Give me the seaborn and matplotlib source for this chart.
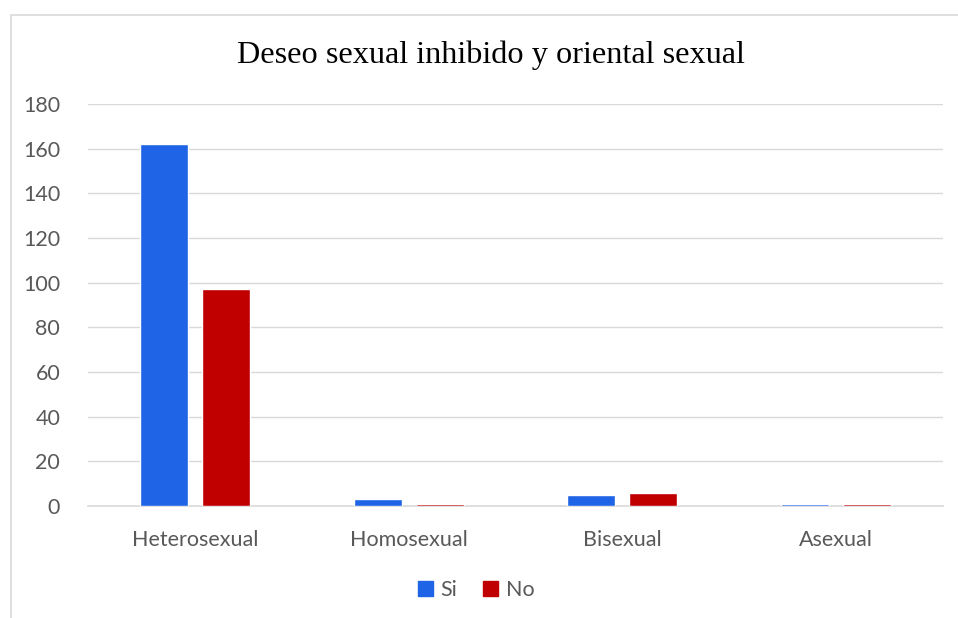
import pandas as pd
import matplotlib.pyplot as plt
import seaborn as sns
from matplotlib.patches import Rectangle

categorias = ["Heterosexual", "Homosexual", "Bisexual", "Asexual"]
valores_si = [162, 3, 5, 1]
valores_no = [97, 1, 6, 1]
series = ["Si", "No"]
colores = {"Si": "#1f64e6", "No": "#c00000"}
ticks_y = [0, 20, 40, 60, 80, 100, 120, 140, 160, 180]

df = pd.DataFrame({
    "orientacion": categorias * 2,
    "respuesta": ["Si"] * len(categorias) + ["No"] * len(categorias),
    "valor": valores_si + valores_no,
})

sns.set_style("white")
plt.rcParams["font.family"] = ["Lato", "DejaVu Sans"]

fig = plt.figure(figsize=(9.58, 6.18), dpi=100)
W, H = 958, 618
ax = fig.add_axes([88 / W, 1 - 506 / H, (943 - 88) / W, (506 - 104) / H])

sns.barplot(data=df, x="orientacion", y="valor", hue="respuesta",
            hue_order=series, palette=colores, width=0.58, gap=0.226,
            saturation=1, ax=ax, legend=False)
for p in ax.patches:
    p.set_zorder(3)

ax.set_ylim(0, 180)
ax.set_yticks(ticks_y)
ax.set_xlim(-0.5, 3.5)
ax.grid(axis="y", color="#d9d9d9", linewidth=1)
ax.set_axisbelow(True)
for s in ["left", "right", "top"]:
    ax.spines[s].set_visible(False)
ax.spines["bottom"].set_color("#d9d9d9")
ax.spines["bottom"].set_linewidth(1.2)
ax.spines["bottom"].set_zorder(1)
ax.tick_params(axis="both", length=0, labelsize=15.5, colors="#595959")
ax.tick_params(axis="y", pad=20)
ax.tick_params(axis="x", pad=17)
ax.set_xlabel("")
ax.set_ylabel("")

fig.text(491 / W, 1 - 55 / H, "Deseo sexual inhibido y oriental sexual",
         ha="center", va="center", fontsize=23.2, family="Liberation Serif",
         color="black")

# leyenda manual centrada abajo
handles = [Rectangle((0, 0), 1, 1, color=colores[s]) for s in series]
fig.legend(handles, series, loc="center", bbox_to_anchor=(476 / W, 1 - 590 / H),
           ncol=2, frameon=False, fontsize=15.5, handlelength=0.7,
           handleheight=0.7, handletextpad=0.35, columnspacing=1.2,
           labelcolor="#595959")

# marco del grafico
fig.patches.append(Rectangle((10.5 / W, -0.05), 1.1, 1 - 15 / H + 0.05,
                             transform=fig.transFigure, fill=False,
                             edgecolor="#d9d9d9", linewidth=1.2))

fig.savefig("out.png", dpi=100)
